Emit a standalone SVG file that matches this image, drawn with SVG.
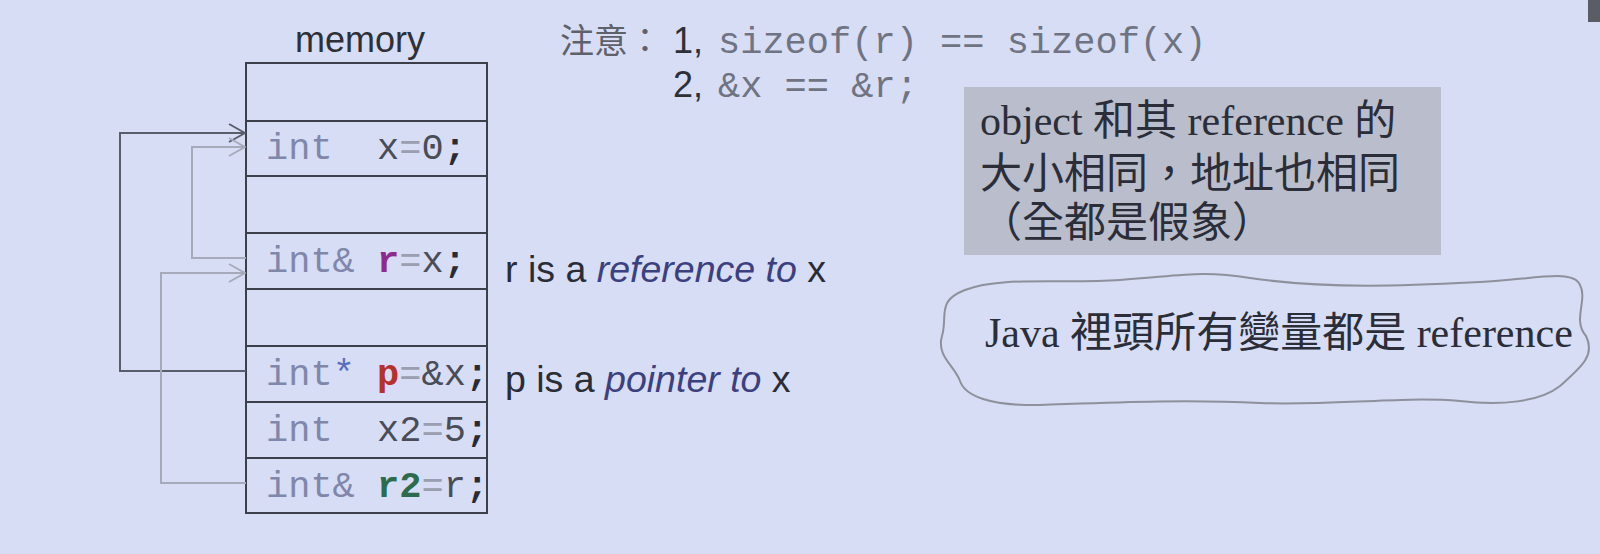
<svg xmlns="http://www.w3.org/2000/svg" width="1600" height="554" viewBox="0 0 1600 554">
<style>
.mono{font-family:"Liberation Mono","DejaVu Sans Mono",monospace;font-size:37px;white-space:pre;}
.sans{font-family:"Liberation Sans",Arial,"Noto Sans CJK TC",sans-serif;}
.serif{font-family:"Liberation Serif","Noto Sans CJK TC",serif;font-size:42px;fill:#2b2d38;}
.cell{fill:none;stroke:#3d3f4a;stroke-width:2;}
.kw{fill:#8087ab;}
.tx{fill:#4a4c58;}
.eq{fill:#9a9eb0;}
.semi{fill:#2a2a33;font-weight:bold;}
.dark{fill:none;stroke:#5a5d6c;stroke-width:2;}
.light{fill:none;stroke:#a6aabb;stroke-width:2;}
</style>
<defs>
<marker id="chevD" viewBox="0 0 18 20" refX="17" refY="10" markerWidth="18" markerHeight="20" markerUnits="userSpaceOnUse" orient="auto">
<path d="M1,1 L17,10 L1,19" fill="none" stroke="#5a5d6c" stroke-width="2"/>
</marker>
<marker id="chevL" viewBox="0 0 18 20" refX="17" refY="10" markerWidth="18" markerHeight="20" markerUnits="userSpaceOnUse" orient="auto">
<path d="M1,1 L17,10 L1,19" fill="none" stroke="#a6aabb" stroke-width="2"/>
</marker>
</defs>
<rect x="0" y="0" width="1600" height="554" fill="#d6ddf4"/>
<rect x="1588" y="0" width="12" height="22" fill="#5a5c66"/>

<g id="memory">
<text class="sans" x="360" y="52" font-size="36" text-anchor="middle" fill="#2e3038">memory</text>
<rect class="cell" x="246" y="63" width="241" height="450"/>
<path class="cell" d="M246,121H487M246,176H487M246,233H487M246,289H487M246,346H487M246,402H487M246,458H487"/>
</g>

<g id="cell-x">
<text class="mono" x="266" y="159" xml:space="preserve"><tspan class="kw">int  </tspan><tspan class="tx">x</tspan><tspan class="eq">=</tspan><tspan class="tx">0</tspan><tspan class="semi">;</tspan></text>
</g>
<g id="cell-r">
<text class="mono" x="266" y="272" xml:space="preserve"><tspan class="kw">int&amp; </tspan><tspan fill="#8e2a8e" font-weight="bold">r</tspan><tspan class="eq">=</tspan><tspan class="tx">x</tspan><tspan class="semi">;</tspan></text>
</g>
<g id="cell-p">
<text class="mono" x="266" y="385" xml:space="preserve"><tspan class="kw">int</tspan><tspan fill="#5a6fc0">*</tspan><tspan class="kw"> </tspan><tspan fill="#b8302e" font-weight="bold">p</tspan><tspan class="eq">=</tspan><tspan class="tx">&amp;x</tspan><tspan class="semi">;</tspan></text>
</g>
<g id="cell-x2">
<text class="mono" x="266" y="441" xml:space="preserve"><tspan class="kw">int  </tspan><tspan class="tx">x2</tspan><tspan class="eq">=</tspan><tspan class="tx">5</tspan><tspan class="semi">;</tspan></text>
</g>
<g id="cell-r2">
<text class="mono" x="266" y="497" xml:space="preserve"><tspan class="kw">int&amp; </tspan><tspan fill="#2e6a4c" font-weight="bold">r2</tspan><tspan class="eq">=</tspan><tspan class="tx">r</tspan><tspan class="semi">;</tspan></text>
</g>

<g id="connectors">
<path class="dark" d="M246,371H120V133H245" marker-end="url(#chevD)"/>
<path class="light" d="M246,258H192V147H245" marker-end="url(#chevL)"/>
<path class="light" d="M246,483H161V273H245" marker-end="url(#chevL)"/>
</g>

<g id="label-r">
<text class="sans" x="505" y="282" font-size="37.5" fill="#2a2c36">r is a <tspan font-style="italic" fill="#3c4080">reference to</tspan> x</text>
</g>
<g id="label-p">
<text class="sans" x="505" y="392" font-size="37.5" fill="#2a2c36">p is a <tspan font-style="italic" fill="#3c4080">pointer to</tspan> x</text>
</g>

<g id="note">
<text x="560" y="53" font-family="'Noto Sans CJK TC',sans-serif" font-size="34" fill="#5e606a">注意：</text>
<text class="sans" x="673" y="53" font-size="36" fill="#2e3038">1,</text>
<text class="mono" x="718" y="53" fill="#707382">sizeof(r) == sizeof(x)</text>
<text class="sans" x="673" y="97" font-size="36" fill="#2e3038">2,</text>
<text class="mono" x="718" y="97" fill="#707382">&amp;x == &amp;r;</text>
</g>

<g id="greybox">
<rect x="964" y="87" width="477" height="168" fill="#b9bdcc"/>
<text class="serif" x="980" y="135">object 和其 reference 的</text>
<text class="serif" x="980" y="188">大小相同，地址也相同</text>
<text class="serif" x="980" y="237">（全都是假象）</text>
</g>

<g id="cloud">
<path d="M965,290 C1000,276 1060,284 1120,280 C1180,276 1200,270 1250,278 C1330,290 1420,285 1480,282 C1530,280 1574,268 1580,285 C1588,300 1572,320 1586,336 C1596,356 1580,368 1560,386 C1540,402 1500,406 1460,401 C1400,396 1330,406 1260,403 C1180,399 1100,403 1040,405 C990,406 965,396 960,381 C955,366 936,356 942,336 C948,316 936,301 965,290 Z" fill="none" stroke="#8e909c" stroke-width="2"/>
<text class="serif" x="985" y="347">Java 裡頭所有變量都是 reference</text>
</g>
</svg>
